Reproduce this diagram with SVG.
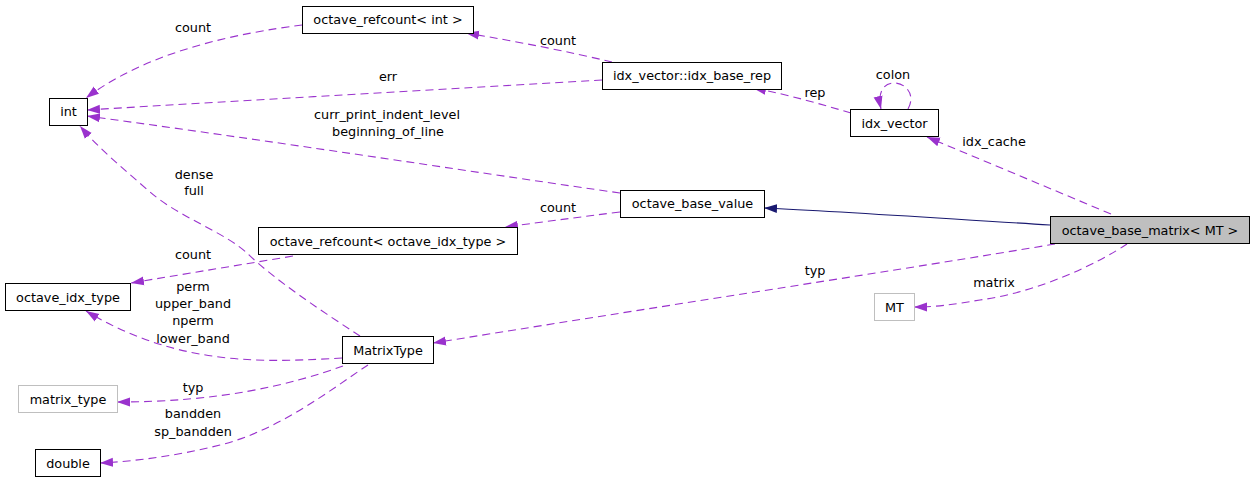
<svg xmlns="http://www.w3.org/2000/svg" width="1256" height="484" viewBox="0 0 1256 484">
<style>
text{font-family:"DejaVu Sans",sans-serif;font-size:12.8px;fill:#000;text-anchor:middle}
.n rect{fill:#fff;stroke:#000;stroke-width:1}
.n.g rect{stroke:#bfbfbf}
.n.cur rect{fill:#bfbfbf}
.e{fill:none;stroke:#9a32cd;stroke-width:1.1;stroke-dasharray:8,5;marker-end:url(#ap)}
.inh{fill:none;stroke:#191970;stroke-width:1.1;marker-end:url(#an)}
</style>
<defs>
<marker id="ap" markerUnits="userSpaceOnUse" markerWidth="13" markerHeight="10" refX="13" refY="5" orient="auto"><path d="M0,0.5 L13,5 L0,9.5 z" fill="#9a32cd"/></marker>
<marker id="an" markerUnits="userSpaceOnUse" markerWidth="13" markerHeight="10" refX="13" refY="5" orient="auto"><path d="M0,0.5 L13,5 L0,9.5 z" fill="#191970"/></marker>
</defs>
<rect width="1256" height="484" fill="#fff"/>
<g id="edges">
<path class="e" d="M302,25 C240,33 150,50 86,98"/>
<path class="e" d="M602,80 C450,89 250,100 87,110"/>
<path class="e" d="M620,193 C500,176 300,145 87,116"/>
<path class="e" d="M360,336 C320,310 275,280 248,254 C225,232 180,218 150,192 C125,170 100,150 80,126"/>
<path class="e" d="M612,62 C570,52 520,42 466,33"/>
<path class="e" d="M851,113 C820,104 790,95 753,88"/>
<path class="e" d="M908,109 C916,95 906,83 894,83 C884,83 877,92 881,109"/>
<path class="e" d="M1111,214 L927,137"/>
<path class="inh" d="M1050,225 C950,219 850,212 764,208"/>
<path class="e" d="M620,212 C580,217 550,221 505,227"/>
<path class="e" d="M293,256 C240,265 190,273 131,283"/>
<path class="e" d="M342,358 C270,362 180,368 86,311"/>
<path class="e" d="M1055,244 C900,270 700,300 433,343"/>
<path class="e" d="M1127,244 C1100,262 1040,292 980,300 C955,304 940,307 914,307"/>
<path class="e" d="M343,366 C290,385 220,402 117,402"/>
<path class="e" d="M368,365 C330,390 280,430 220,445 C180,455 140,461 100,463"/>
</g>
<g id="edge-labels">
<text x="193" y="32">count</text>
<text x="388" y="81">err</text>
<text x="387" y="119">curr_print_indent_level</text>
<text x="388" y="136">beginning_of_line</text>
<text x="194" y="179">dense</text>
<text x="194" y="195">full</text>
<text x="558" y="45">count</text>
<text x="815" y="97">rep</text>
<text x="893" y="79">colon</text>
<text x="994" y="146">idx_cache</text>
<text x="558" y="212">count</text>
<text x="193" y="259">count</text>
<text x="193" y="291">perm</text>
<text x="193" y="308">upper_band</text>
<text x="193" y="325">nperm</text>
<text x="193" y="343">lower_band</text>
<text x="815" y="275">typ</text>
<text x="994" y="287">matrix</text>
<text x="193" y="392">typ</text>
<text x="193" y="418">bandden</text>
<text x="193" y="436">sp_bandden</text>
</g>
<g id="n-refcount-int" class="n"><rect x="302.5" y="6.5" width="171" height="27"/><text x="388" y="24">octave_refcount&lt; int &gt;</text></g>
<g id="n-int" class="n"><rect x="49.5" y="98.5" width="38" height="27"/><text x="68.5" y="116">int</text></g>
<g id="n-idx-base-rep" class="n"><rect x="602.5" y="62.5" width="179" height="27"/><text x="692" y="80">idx_vector::idx_base_rep</text></g>
<g id="n-idx-vector" class="n"><rect x="850.5" y="109.5" width="88" height="27"/><text x="894.5" y="127.5">idx_vector</text></g>
<g id="n-octave-base-matrix" class="n cur"><rect x="1050.5" y="216.5" width="199" height="27"/><text x="1150" y="234.5">octave_base_matrix&lt; MT &gt;</text></g>
<g id="n-octave-base-value" class="n"><rect x="620.5" y="190.5" width="144" height="27"/><text x="692.5" y="208">octave_base_value</text></g>
<g id="n-refcount-idx" class="n"><rect x="258.5" y="227.5" width="259" height="27"/><text x="388" y="245.5">octave_refcount&lt; octave_idx_type &gt;</text></g>
<g id="n-octave-idx-type" class="n"><rect x="5.5" y="283.5" width="125" height="27"/><text x="68" y="301.5">octave_idx_type</text></g>
<g id="n-matrixtype" class="n"><rect x="342.5" y="336.5" width="91" height="27"/><text x="388" y="354.5">MatrixType</text></g>
<g id="n-matrix-type" class="n g"><rect x="18.5" y="385.5" width="99" height="27"/><text x="68" y="403.5">matrix_type</text></g>
<g id="n-double" class="n"><rect x="35.5" y="449.5" width="65" height="27"/><text x="68" y="468">double</text></g>
<g id="n-mt" class="n g"><rect x="874.5" y="293.5" width="40" height="27"/><text x="894.5" y="311.5">MT</text></g>
</svg>
